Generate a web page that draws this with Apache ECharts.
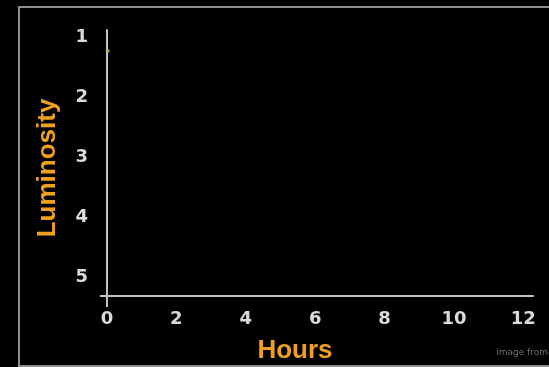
<!DOCTYPE html>
<html>
<head>
<meta charset="utf-8">
<script src="https://cdn.jsdelivr.net/npm/echarts@6/dist/echarts.min.js"></script>
<style>html,body{margin:0;padding:0;background:#000;}#c{width:549px;height:367px;}</style>
</head>
<body>
<div id="c"></div>
<script>
var xTicks = [0, 2, 4, 6, 8, 10, 12];
var yTicks = [1, 2, 3, 4, 5];
var points = [[0.02, 1.23]];
var xName = 'Hours';
var yName = 'Luminosity';
var credit = 'image from';

var chart = echarts.init(document.getElementById('c'));
var grey = '#C4C4C4';
chart.setOption({
  backgroundColor: '#000',
  animation: false,
  grid: {left: 107, right: 16, top: 30, bottom: 71, outerBoundsMode: 'none'},
  graphic: [
    {type: 'rect', shape: {x: 19, y: 7, width: 560, height: 359}, style: {fill: 'none', stroke: '#8E8E8E', lineWidth: 2}, z: -1},
    {type: 'text', right: 1, bottom: 10, style: {text: credit, fill: '#6E6E6E', font: '9px "DejaVu Sans"'}}
  ],
  xAxis: {
    type: 'value', min: 0, max: 12.28,
    name: xName, nameLocation: 'middle', nameGap: 42,
    nameTextStyle: {color: '#F0A020', fontSize: 26, fontWeight: 'bold', fontFamily: 'Liberation Sans', padding: [0, 50, 0, 0]},
    axisLine: {onZero: false, lineStyle: {color: grey, width: 2}},
    axisTick: {show: true, inside: false, length: 11, customValues: [0], lineStyle: {color: grey, width: 2}},
    splitLine: {show: false},
    axisLabel: {customValues: xTicks, color: '#DADADA', fontSize: 18, fontWeight: 'bold', fontFamily: 'DejaVu Sans', margin: 14}
  },
  yAxis: {
    type: 'value', inverse: true, min: 0.88, max: 5.32,
    name: yName, nameLocation: 'middle', nameGap: 46,
    nameTextStyle: {color: '#F0A020', fontSize: 26, fontWeight: 'bold', fontFamily: 'Liberation Sans', padding: [0, 10, 0, 0]},
    axisLine: {show: true, onZero: false, lineStyle: {color: grey, width: 2}},
    axisTick: {show: true, inside: false, length: 7, customValues: [5.32], lineStyle: {color: grey, width: 2}},
    splitLine: {show: false},
    axisLabel: {customValues: yTicks, color: '#DADADA', fontSize: 18, fontWeight: 'bold', fontFamily: 'DejaVu Sans', margin: 19}
  },
  series: [{
    type: 'scatter', data: points, symbolSize: 4,
    itemStyle: {color: '#B8B860'}
  }]
});
</script>
</body>
</html>
